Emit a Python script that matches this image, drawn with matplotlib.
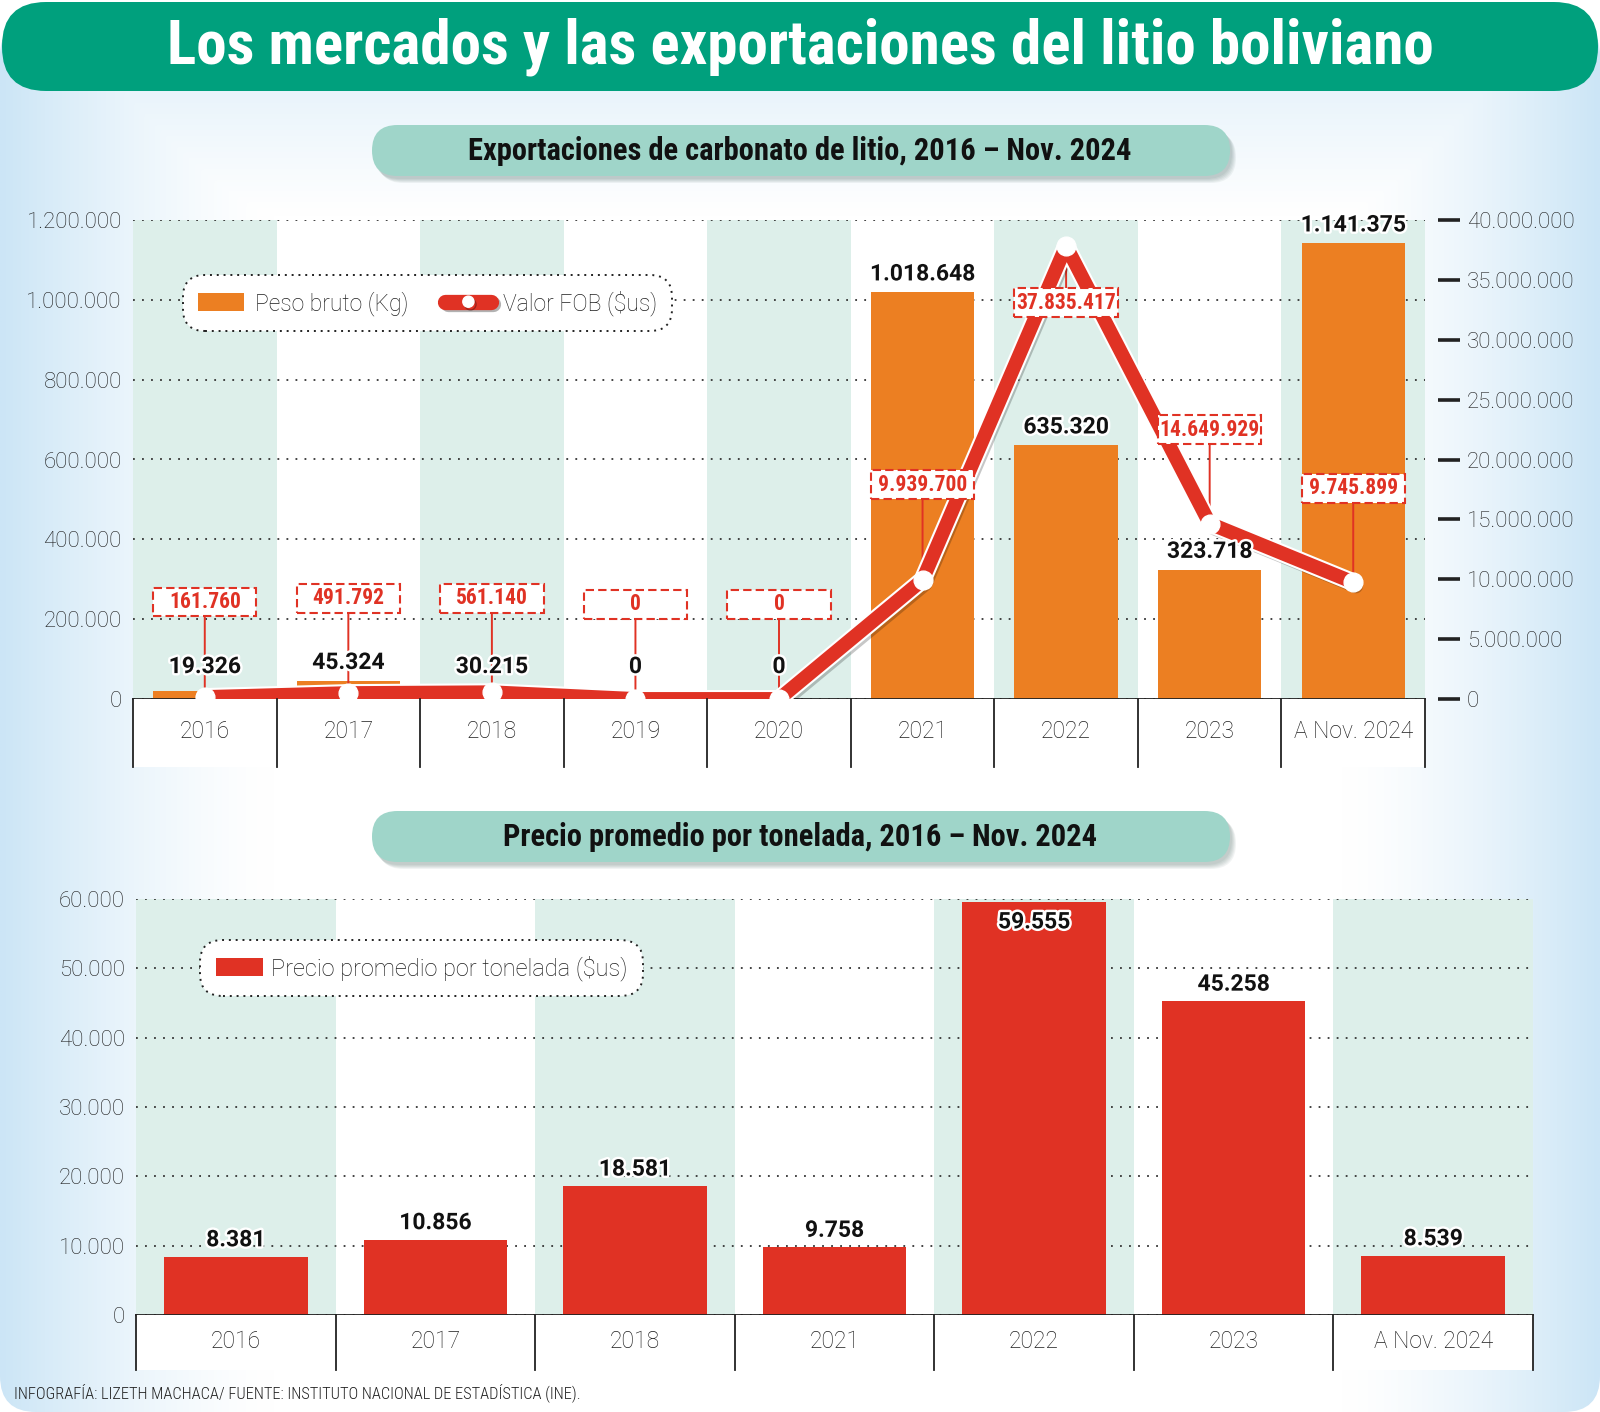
# %% load library
import numpy as np
import matplotlib
matplotlib.use("Agg")
import matplotlib.pyplot as plt
import matplotlib.patheffects as pe
from matplotlib import font_manager as fm
from matplotlib.patches import FancyBboxPatch, Rectangle, Patch
from matplotlib.lines import Line2D
from matplotlib.ticker import FuncFormatter


# %% data
years_top = ["2016", "2017", "2018", "2019", "2020", "2021", "2022", "2023", "A Nov. 2024"]
peso_bruto = [19326, 45324, 30215, 0, 0, 1018648, 635320, 323718, 1141375]        # Kg
valor_fob = [161760, 491792, 561140, 0, 0, 9939700, 37835417, 14649929, 9745899]  # $us

years_bottom = ["2016", "2017", "2018", "2021", "2022", "2023", "A Nov. 2024"]
precio_ton = [8381, 10856, 18581, 9758, 59555, 45258, 8539]                        # $us / t

# altura de las cajas punteadas del valor FOB (en $us, eje derecho)
fob_box_y = [8.1e6, 8.4e6, 8.4e6, 7.9e6, 7.9e6, 17.9e6, 33.1e6, 22.5e6, 17.6e6]


# %% style
_names = {f.name for f in fm.fontManager.ttflist}


def pick(*cands):
    for c in cands:
        if c in _names:
            return c
    return "DejaVu Sans"


NARROW = pick("Liberation Sans Narrow", "Roboto Condensed", "DejaVu Sans")
LIGHT = pick("Roboto", "Open Sans", "Lato", "DejaVu Sans")
BOLD = pick("Roboto", "Open Sans", "DejaVu Sans")

plt.rcParams["font.family"] = [LIGHT, "DejaVu Sans"]
plt.rcParams["font.weight"] = "light"

W, H = 1600, 1412
ORANGE = "#ec7f22"
RED = "#e03224"
SHADE = "#ddefea"
GREEN = "#00a07d"
PILL = "#9fd5c9"
INK = "#1e1e1e"


def fmt(v):
    return f"{v:,.0f}".replace(",", ".")


def axes_px(l, t, r, b, **kw):
    # ejes dados en pixeles de la imagen (origen arriba a la izquierda)
    return fig.add_axes([l / W, 1 - b / H, (r - l) / W, (b - t) / H], **kw)


fig = plt.figure(figsize=(W / 100, H / 100), dpi=100, facecolor="white")


# %% background, banner and section pills
bg = fig.add_axes([0, 0, 1, 1], zorder=-10)
bg.set_xlim(0, W)
bg.set_ylim(H, 0)
bg.axis("off")

gx, gy = np.meshgrid(np.linspace(0, 1, 400), np.linspace(0, 1, 350))
fade = np.maximum.reduce([
    np.clip(1 - gx / 0.17, 0, 1) ** 1.4,
    np.clip((gx - 0.84) / 0.16, 0, 1) ** 1.4,
    0.45 * np.clip(1 - (gy - 0.06) / 0.09, 0, 1),
])
blue = np.array([0.80, 0.90, 0.965])
img = (1 - fade[..., None]) + fade[..., None] * blue
panel = FancyBboxPatch((0, 20), W, H - 20, boxstyle="round,pad=0,rounding_size=36",
                       fc="none", ec="none")
bg.add_patch(panel)
im = bg.imshow(img, extent=(0, W, H, 0), aspect="auto", interpolation="bilinear")
im.set_clip_path(panel)

bg.add_patch(FancyBboxPatch((2, 2), W - 4, 89, boxstyle="round,pad=0,rounding_size=44",
                            fc=GREEN, ec="none"))
bg.text(W / 2, 47, "Los mercados y las exportaciones del litio boliviano", color="white",
        ha="center", va="center", fontsize=44, fontweight="bold", family=NARROW,
        fontstretch="condensed")


def pill(y0, y1, text):
    h = y1 - y0
    for k in range(5):
        bg.add_patch(FancyBboxPatch((374 + k, y0 + 3 + k), 858, h,
                                    boxstyle=f"round,pad=0,rounding_size={h / 2}",
                                    fc="#40605a", ec="none", alpha=0.07))
    bg.add_patch(FancyBboxPatch((372, y0), 858, h, boxstyle=f"round,pad=0,rounding_size={h / 2}",
                                fc=PILL, ec="none"))
    bg.text(800, (y0 + y1) / 2 + 1, text, ha="center", va="center", fontsize=22,
            fontweight="bold", family=NARROW, fontstretch="condensed", color="#111111")


pill(125, 176, "Exportaciones de carbonato de litio, 2016 – Nov. 2024")
pill(811, 862, "Precio promedio por tonelada, 2016 – Nov. 2024")


# %% helpers shared by both charts
def base_axes(ax, n, ymax, step):
    ax.set_xlim(-0.5, n - 0.5)
    ax.set_ylim(0, ymax)
    ax.set_facecolor("none")
    for i in range(0, n, 2):
        ax.axvspan(i - 0.5, i + 0.5, color=SHADE, lw=0, zorder=0.2)
    ax.set_yticks(np.arange(0, ymax + 1, step))
    ax.yaxis.set_major_formatter(FuncFormatter(lambda v, p: fmt(v)))
    ax.yaxis.grid(True, ls=(0, (1, 4)), color="#333333", lw=1.3, zorder=0.5)
    ax.set_axisbelow(True)
    ax.set_xticks([])
    for s in ["top", "right", "left"]:
        ax.spines[s].set_visible(False)
    ax.spines["bottom"].set_color("#222222")
    ax.spines["bottom"].set_linewidth(1.3)
    ax.tick_params(axis="y", length=0, pad=8, labelsize=16, labelcolor=INK)


def category_row(rect, labels):
    cax = axes_px(*rect)
    cax.set_xlim(-0.5, len(labels) - 0.5)
    cax.set_ylim(0, 1)
    cax.set_xticks([])
    cax.set_yticks([])
    for s in cax.spines.values():
        s.set_visible(False)
    cax.set_facecolor("white")
    for b in np.arange(len(labels) + 1) - 0.5:
        cax.axvline(b, color="#222222", lw=1.3, clip_on=False)
    for i, lab in enumerate(labels):
        cax.text(i, 0.52, lab, ha="center", va="center", fontsize=16.5, color=INK)
    return cax


def legend_frame(leg):
    fr = leg.get_frame()
    fr.set_boxstyle("round,pad=0.2,rounding_size=0.95")
    fr.set_linestyle((0, (1, 2.5)))
    fr.set_edgecolor("#222222")
    fr.set_linewidth(1.4)
    fr.set_facecolor("white")
    fr.set_alpha(1)
    for t in leg.get_texts():
        t.set_color(INK)


label_fx = [pe.withStroke(linewidth=3.5, foreground="white")]


# %% chart 1: exportaciones
x_top = np.arange(len(years_top))
ax1 = axes_px(133, 220, 1425, 699)
base_axes(ax1, len(years_top), 1.2e6, 2e5)
ax1.bar(x_top, peso_bruto, width=0.72, color=ORANGE, zorder=2, label="Peso bruto (Kg)")

ax2 = ax1.twinx()
ax2.set_ylim(0, 4e7)
ax2.set_yticks(np.arange(0, 4e7 + 1, 5e6))
ax2.yaxis.set_major_formatter(FuncFormatter(lambda v, p: fmt(v)))
for s in ["top", "left", "bottom"]:
    ax2.spines[s].set_visible(False)
ax2.spines["right"].set_position(("outward", 9))
ax2.spines["right"].set_visible(False)
ax2.tick_params(axis="y", direction="out", length=16, width=2.6, color="#222222",
                pad=5, labelsize=16, labelcolor=INK)

# linea del valor FOB (linea gruesa con borde blanco y puntos blancos)
ax2.plot(x_top, valor_fob, color=RED, lw=10, solid_joinstyle="round",
         solid_capstyle="round", zorder=3,
         path_effects=[pe.SimpleLineShadow(offset=(2, -3), alpha=0.22),
                       pe.Stroke(linewidth=13, foreground="white"), pe.Normal()])
ax2.plot(x_top, valor_fob, ls="none", marker="o", ms=13.5, mfc="white", mec="white",
         zorder=3.5)

# cajas del valor FOB con su linea guia
bw, bh = 0.72, 2.4e6
for i, (v, yb) in enumerate(zip(valor_fob, fob_box_y)):
    edge = yb + bh / 2 if v > yb else yb - bh / 2
    ax2.annotate("", xy=(i, v), xytext=(i, edge),
                 arrowprops=dict(arrowstyle="-", color=RED, lw=1.4, shrinkA=0, shrinkB=0),
                 zorder=2)
    ax2.add_patch(Rectangle((i - bw / 2, yb - bh / 2), bw, bh, fc="white", ec=RED,
                            ls=(0, (4, 2)), lw=1.5, zorder=5))
    ax2.text(i, yb, fmt(v), ha="center", va="center", fontsize=15.5, fontweight="bold",
             family=NARROW, fontstretch="condensed", color=RED, zorder=6)

# etiquetas del peso bruto (en la escala del eje izquierdo)
for i, v in zip(x_top, peso_bruto):
    ax2.annotate(fmt(v), xy=(i, max(v, 35000)), xycoords=ax1.transData,
                 xytext=(0, 5), textcoords="offset points", ha="center", va="bottom",
                 fontsize=16.5, fontweight="bold", family=BOLD, color="#111111",
                 path_effects=label_fx, zorder=4)

fob_handle = Line2D([], [], color=RED, lw=11, marker="o", ms=8, mfc="white", mec="white",
                    solid_capstyle="round",
                    path_effects=[pe.SimpleLineShadow(offset=(1.5, -2), alpha=0.3), pe.Normal()])
leg1 = ax1.legend(handles=[Patch(fc=ORANGE), fob_handle],
                  labels=["Peso bruto (Kg)", r"Valor FOB (\$us)"],
                  loc="center", bbox_to_anchor=(427.5 / W, 1 - 303 / H),
                  bbox_transform=fig.transFigure, ncol=2, fontsize=16.5,
                  handlelength=2.0, handleheight=0.85, columnspacing=1.6,
                  handletextpad=0.5, borderpad=0.45, framealpha=1, fancybox=True)
legend_frame(leg1)
leg1.set_zorder(5)

category_row((133, 699, 1425, 767), years_top)


# %% chart 2: precio promedio
x_bot = np.arange(len(years_bottom))
ax3 = axes_px(136, 899, 1533, 1315)
base_axes(ax3, len(years_bottom), 6e4, 1e4)
ax3.bar(x_bot, precio_ton, width=0.72, color=RED, zorder=2)

ymax = ax3.get_ylim()[1]
for i, v in zip(x_bot, precio_ton):
    inside = v > 0.9 * ymax
    ax3.annotate(fmt(v), xy=(i, v), xytext=(0, -6 if inside else 4), textcoords="offset points",
                 ha="center", va="top" if inside else "bottom", fontsize=16.5,
                 fontweight="bold", family=BOLD, color="#111111", path_effects=label_fx,
                 zorder=4)

leg2 = ax3.legend(handles=[Patch(fc=RED)], labels=[r"Precio promedio por tonelada (\$us)"],
                  loc="center", bbox_to_anchor=(421.5 / W, 1 - 968 / H),
                  bbox_transform=fig.transFigure, fontsize=17, handlelength=2.0,
                  handleheight=0.85, handletextpad=0.35, borderpad=0.45, framealpha=1)
legend_frame(leg2)
leg2.set_zorder(5)

category_row((136, 1315, 1533, 1370), years_bottom)


# %% footer and save
fig.text(14 / W, 1 - 1393 / H,
         "INFOGRAFÍA: LIZETH MACHACA/ FUENTE: INSTITUTO NACIONAL DE ESTADÍSTICA (INE).",
         fontsize=11.8, family=NARROW, fontstretch="condensed", color="#222222", va="center")

fig.savefig("out.png", dpi=100, facecolor="white")
